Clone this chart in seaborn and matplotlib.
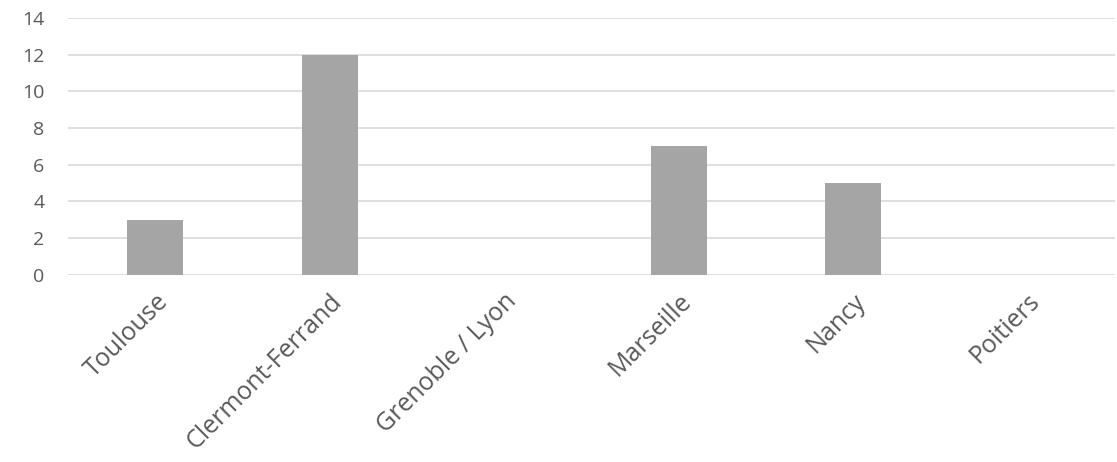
import matplotlib
matplotlib.use('Agg')
import matplotlib.pyplot as plt
import seaborn as sns
import pandas as pd

villes = ['Toulouse', 'Clermont-Ferrand', 'Grenoble / Lyon', 'Marseille', 'Nancy', 'Poitiers']
valeurs = [3, 12, 0, 7, 5, 0]

df = pd.DataFrame({'Ville': villes, 'Valeur': valeurs})

sns.set_style('white')
plt.rcParams['font.family'] = ['Open Sans', 'DejaVu Sans']

fig = plt.figure(figsize=(11.17, 4.62), dpi=100)
ax = fig.add_axes([0.061, 0.405, 0.937, 0.556])

sns.barplot(x='Ville', y='Valeur', data=df, color='#a5a5a5', width=0.32,
            saturation=1, linewidth=0, ax=ax, zorder=3)

ax.set_ylim(0, 14)
ax.set_yticks(range(0, 15, 2))
ax.set_xlim(-0.5, len(villes) - 0.5)
ax.yaxis.grid(True, color='#d9d9d9', linewidth=1.2, zorder=0)
ax.set_axisbelow(True)
for s in ax.spines.values():
    s.set_visible(False)

ax.set_xlabel('')
ax.set_ylabel('')
ax.tick_params(axis='y', length=0, labelsize=14, colors='#595959', pad=17)
ax.tick_params(axis='x', length=0, labelsize=18, colors='#595959', pad=10)
plt.setp(ax.get_xticklabels(), rotation=45, ha='right', rotation_mode='anchor')

fig.savefig('out.png', dpi=100)
